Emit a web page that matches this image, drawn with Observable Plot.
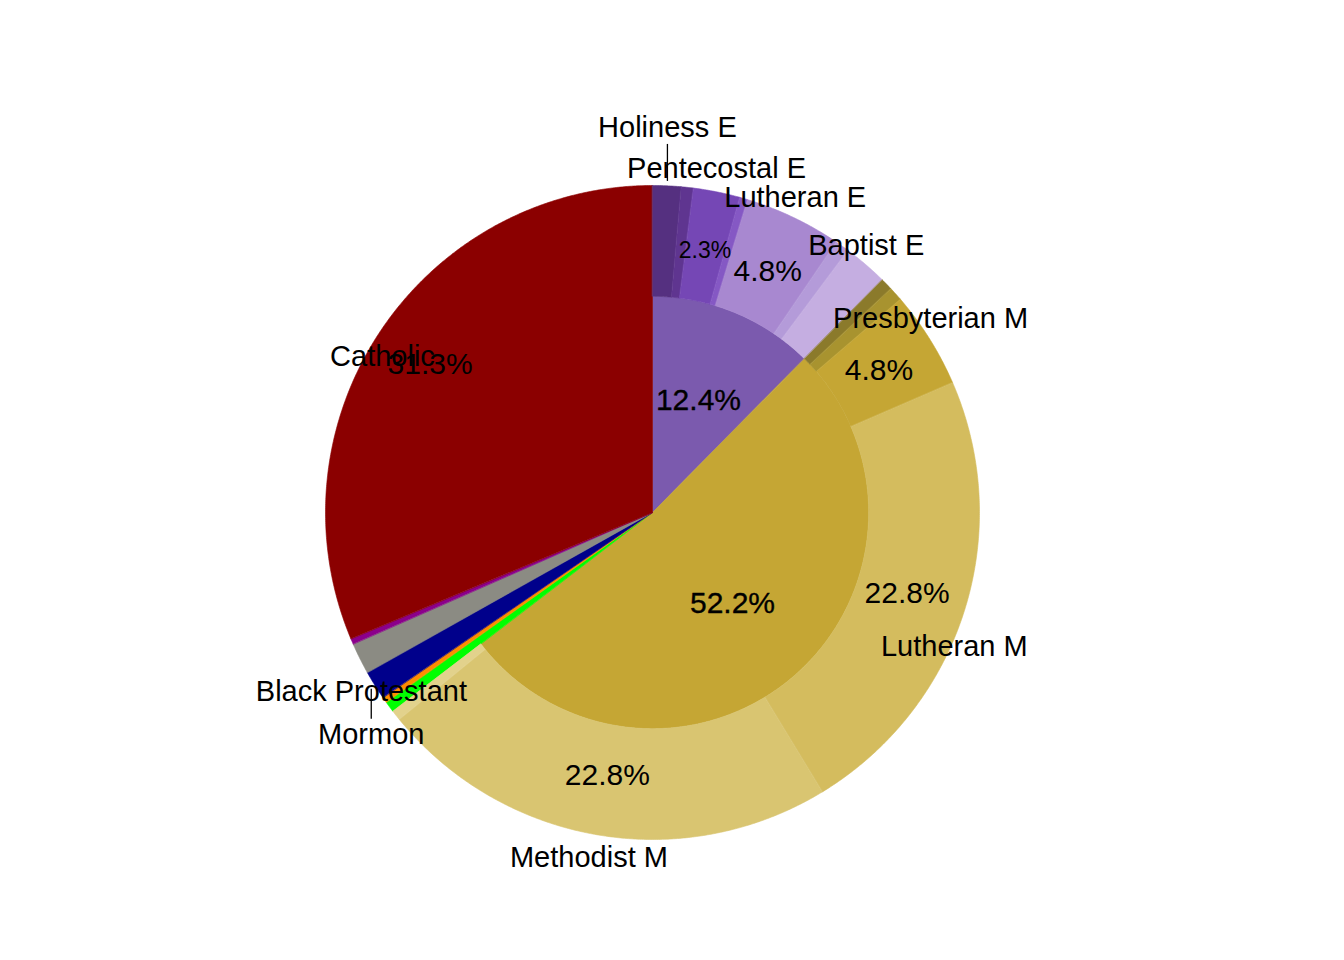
<!DOCTYPE html>
<html>
<head>
<meta charset="utf-8">
<script src="https://cdn.jsdelivr.net/npm/d3@7"></script>
<script src="https://cdn.jsdelivr.net/npm/@observablehq/plot@0.6"></script>
<style>
  html, body { margin: 0; padding: 0; background: #ffffff; }
  #chart svg { display: block; }
</style>
</head>
<body>
<div id="chart"></div>
<script>
// ---------------- data ----------------
// inner ring: religious traditions (percent of total), clockwise from 12 o'clock
const groupNames  = ["Evangelical", "Mainline", "Other Christian", "Mormon", "Black Protestant", "Unaffiliated", "Jewish", "Catholic"];
const groupShares = [12.4, 52.2, 0.54, 0.28, 1.44, 1.55, 0.28, 31.3];
const groupColors = ["#7b5aae", "#c5a634", "#00ff00", "#ff8c00", "#00008b", "#8b8b83", "#8b008b", "#8b0000"];

// outer ring: denominations (percent of total), clockwise inside their tradition
const subNames   = ["Holiness E", "Nazarene E", "Pentecostal E", "Adventist E", "Lutheran E", "Restorationist E", "Baptist E",
                    "Reformed M", "Episcopal M", "Presbyterian M", "Lutheran M", "Methodist M", "Congregational M"];
const subParents = ["Evangelical", "Evangelical", "Evangelical", "Evangelical", "Evangelical", "Evangelical", "Evangelical",
                    "Mainline", "Mainline", "Mainline", "Mainline", "Mainline", "Mainline"];
const subShares  = [1.4, 0.6, 2.3, 0.4, 4.8, 0.7, 2.2,
                    0.6, 0.7, 4.8, 22.8, 22.8, 0.5];
const subColors  = ["#553080", "#5f3590", "#7547b5", "#8558c4", "#a888d0", "#b49bd9", "#c5aee1",
                    "#8b7a2b", "#a8932f", "#c5a634", "#d4bc5e", "#d9c571", "#e2d28c"];

// names written around the pie
const nameLabels = ["Holiness E", "Pentecostal E", "Lutheran E", "Baptist E", "Presbyterian M",
                    "Lutheran M", "Methodist M", "Catholic", "Black Protestant", "Mormon"];

// ---------------- layout (not data) ----------------
const W = 1344, H = 960, CX = 652, CY = 512, RPX = 327;
const R_IN = 0.661;           // inner ring radius (outer radius = 1)
const PCT_MIN = 2.3;          // smallest share that gets a % label
const FONT = "'Liberation Sans', Arial, Helvetica, sans-serif";
// repel-like placement of name labels: [angle shift in degrees, radius]
const labelNudge = {
  "Holiness E": [-0.3, 1.178], "Pentecostal E": [-0.8, 1.07], "Lutheran E": [-1.2, 1.058],
  "Baptist E": [-2.0, 1.046], "Presbyterian M": [-2.8, 1.036], "Lutheran M": [6.3, 1.01],
  "Methodist M": [0.7, 1.073], "Catholic": [-3.6, 0.954], "Black Protestant": [0.3, 1.045],
  "Mormon": [-3.4, 1.097]
};
const leaderLabels = ["Holiness E", "Mormon"];

// ---------------- geometry from data ----------------
const total = d3.sum(groupShares);
const toDeg = v => v / total * 360;
const rad = a => a * Math.PI / 180;
const polar = (a, r) => ({x: r * Math.sin(rad(a)), y: r * Math.cos(rad(a))});

const slices = [];   // {name, share, color, a0, a1, r0, r1, level}
let acc = 0;
groupNames.forEach((g, i) => {
  const a0 = toDeg(acc), a1 = toDeg(acc + groupShares[i]);
  const hasChildren = subParents.includes(g);
  slices.push({name: g, share: groupShares[i], color: groupColors[i], a0, a1, r0: 0, r1: hasChildren ? R_IN : 1, level: hasChildren ? "inner" : "full"});
  if (hasChildren) {
    let sacc = acc;
    subNames.forEach((s, j) => {
      if (subParents[j] !== g) return;
      slices.push({name: s, share: subShares[j], color: subColors[j], a0: toDeg(sacc), a1: toDeg(sacc + subShares[j]), r0: R_IN, r1: 1, level: "outer"});
      sacc += subShares[j];
    });
  }
  acc += groupShares[i];
});

function wedgePoints(s) {
  const pts = [];
  const n = Math.max(2, Math.ceil((s.a1 - s.a0) * 3));
  for (let k = 0; k <= n; k++) pts.push({key: s.name, color: s.color, ...polar(s.a0 + (s.a1 - s.a0) * k / n, s.r1)});
  if (s.r0 === 0) pts.push({key: s.name, color: s.color, x: 0, y: 0});
  else for (let k = n; k >= 0; k--) pts.push({key: s.name, color: s.color, ...polar(s.a0 + (s.a1 - s.a0) * k / n, s.r0)});
  return pts;
}
const order = ["inner", "full", "outer"];
const wedgeData = order.flatMap(l => slices.filter(s => s.level === l)).flatMap(wedgePoints);

const mid = s => (s.a0 + s.a1) / 2;
const pctData = slices
  .filter(s => s.level !== "inner" && s.share >= PCT_MIN)
  .map(s => ({text: s.share.toFixed(1) + "%", size: s.share < 3 ? 23 : 30, ...polar(mid(s), 0.817)}));
const innerPct = slices
  .filter(s => s.level === "inner")
  .map(s => ({text: s.share.toFixed(1) + "%", ...polar(mid(s), 0.37)}));

const nameData = nameLabels.map(n => {
  const s = slices.find(d => d.name === n);
  const [da, r] = labelNudge[n];
  return {text: n, ...polar(mid(s) + da, r)};
});
const leaders = nameData.filter(d => leaderLabels.includes(d.text)).map(d => {
  const dir = d.y > 0 ? -1 : 1;
  const rr = 1.015;
  return {x1: d.x, y1: d.y + dir * 0.05, x2: d.x, y2: -dir * Math.sqrt(rr * rr - d.x * d.x)};
});

// ---------------- plot ----------------
const chart = Plot.plot({
  width: W, height: H, margin: 0,
  style: {background: "#ffffff", fontFamily: FONT},
  x: {domain: [-CX / RPX, (W - CX) / RPX], axis: null},
  y: {domain: [-(H - CY) / RPX, CY / RPX], axis: null},
  color: {type: "identity"},
  marks: [
    Plot.line(wedgeData, {x: "x", y: "y", z: "key", fill: "color", stroke: "color", strokeWidth: 0.6, curve: "linear-closed"}),
    Plot.link(leaders, {x1: "x1", y1: "y1", x2: "x2", y2: "y2", stroke: "black", strokeWidth: 1.3}),
    Plot.text(pctData, {x: "x", y: "y", text: "text", fontSize: d => d.size, fill: "black", fontFamily: FONT}),
    Plot.text(innerPct, {x: "x", y: "y", text: "text", fontSize: 30, fill: "black", stroke: "black", strokeWidth: 0.35, fontFamily: FONT}),
    Plot.text(nameData, {x: "x", y: "y", text: "text", fontSize: 29, fill: "black", fontFamily: FONT})
  ]
});
document.getElementById("chart").appendChild(chart);
</script>
</body>
</html>
